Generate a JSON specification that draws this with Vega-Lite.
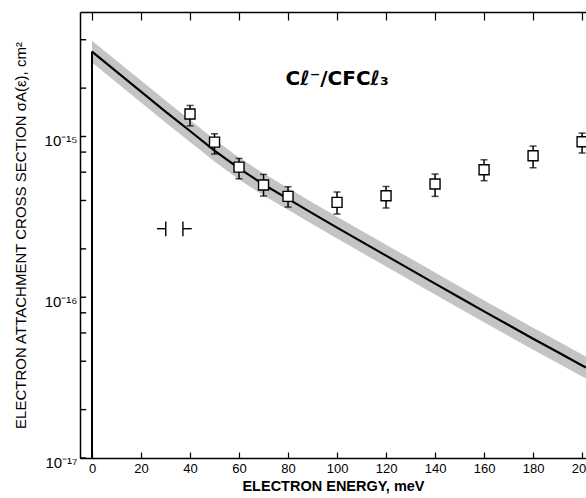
{
  "$schema": "https://vega.github.io/schema/vega-lite/v6.json",
  "width": 506,
  "height": 446,
  "autosize": {"type": "none"},
  "padding": {"left": 80, "top": 12, "right": 0, "bottom": 40},
  "background": "white",
  "config": {
    "view": {"stroke": null},
    "font": "Liberation Sans",
    "axis": {
      "domainColor": "black", "domainWidth": 1.5, "tickColor": "black", "tickWidth": 1.2,
      "labelColor": "black", "titleColor": "black", "grid": false,
      "labelFont": "Liberation Sans", "titleFont": "Liberation Sans"
    }
  },
  "datasets": {
    "curve": [
      {"e": 0, "s": 3.373e-15, "lo": 2.883e-15, "hi": 3.946e-15},
      {"e": 10, "s": 2.533e-15, "lo": 2.165e-15, "hi": 2.964e-15},
      {"e": 20, "s": 1.903e-15, "lo": 1.626e-15, "hi": 2.227e-15},
      {"e": 30, "s": 1.430e-15, "lo": 1.222e-15, "hi": 1.673e-15},
      {"e": 40, "s": 1.082e-15, "lo": 9.25e-16, "hi": 1.266e-15},
      {"e": 50, "s": 8.18e-16, "lo": 6.99e-16, "hi": 9.57e-16},
      {"e": 60, "s": 6.33e-16, "lo": 5.41e-16, "hi": 7.41e-16},
      {"e": 70, "s": 5.03e-16, "lo": 4.30e-16, "hi": 5.89e-16},
      {"e": 80, "s": 4.09e-16, "lo": 3.50e-16, "hi": 4.79e-16},
      {"e": 90, "s": 3.324e-16, "lo": 2.841e-16, "hi": 3.889e-16},
      {"e": 100, "s": 2.71e-16, "lo": 2.316e-16, "hi": 3.171e-16},
      {"e": 110, "s": 2.218e-16, "lo": 1.896e-16, "hi": 2.595e-16},
      {"e": 120, "s": 1.816e-16, "lo": 1.552e-16, "hi": 2.125e-16},
      {"e": 130, "s": 1.486e-16, "lo": 1.270e-16, "hi": 1.739e-16},
      {"e": 140, "s": 1.216e-16, "lo": 1.039e-16, "hi": 1.423e-16},
      {"e": 150, "s": 9.96e-17, "lo": 8.51e-17, "hi": 1.165e-16},
      {"e": 160, "s": 8.17e-17, "lo": 6.98e-17, "hi": 9.56e-17},
      {"e": 170, "s": 6.72e-17, "lo": 5.74e-17, "hi": 7.86e-17},
      {"e": 180, "s": 5.52e-17, "lo": 4.72e-17, "hi": 6.46e-17},
      {"e": 190, "s": 4.56e-17, "lo": 3.90e-17, "hi": 5.34e-17},
      {"e": 200, "s": 3.765e-17, "lo": 3.218e-17, "hi": 4.405e-17},
      {"e": 201.6, "s": 3.65e-17, "lo": 3.12e-17, "hi": 4.27e-17}
    ],
    "points": [
      {"e": 40, "s": 1.38e-15, "lo": 1.165e-15, "hi": 1.56e-15},
      {"e": 50, "s": 9.23e-16, "lo": 7.78e-16, "hi": 1.04e-15},
      {"e": 60, "s": 6.45e-16, "lo": 5.46e-16, "hi": 7.3e-16},
      {"e": 70, "s": 4.99e-16, "lo": 4.26e-16, "hi": 5.81e-16},
      {"e": 80, "s": 4.24e-16, "lo": 3.64e-16, "hi": 4.87e-16},
      {"e": 100, "s": 3.89e-16, "lo": 3.30e-16, "hi": 4.51e-16},
      {"e": 120, "s": 4.28e-16, "lo": 3.59e-16, "hi": 4.89e-16},
      {"e": 140, "s": 5.06e-16, "lo": 4.24e-16, "hi": 5.84e-16},
      {"e": 160, "s": 6.21e-16, "lo": 5.31e-16, "hi": 7.17e-16},
      {"e": 180, "s": 7.59e-16, "lo": 6.39e-16, "hi": 8.72e-16},
      {"e": 200, "s": 9.27e-16, "lo": 7.89e-16, "hi": 1.05e-15}
    ],
    "res": [
      {"x": 26.5, "x2": 30.1, "y": 2.67e-16, "y2": 2.67e-16},
      {"x": 30.1, "x2": 30.1, "y": 2.4e-16, "y2": 2.96e-16},
      {"x": 37.1, "x2": 37.1, "y": 2.4e-16, "y2": 2.96e-16},
      {"x": 37.1, "x2": 40.7, "y": 2.67e-16, "y2": 2.67e-16}
    ],
    "yticks": [{"v": 1e-17}, {"v": 2e-17}, {"v": 4e-17}, {"v": 6e-17}, {"v": 8e-17}, {"v": 1e-16}, {"v": 2e-16}, {"v": 4e-16}, {"v": 6e-16}, {"v": 8e-16}, {"v": 1e-15}, {"v": 2e-15}, {"v": 4e-15}],
    "drop": [{"e": 0, "top": 3.373e-15, "bottom": 1e-17}],
    "label": [{"e": 79, "s": 2.1e-15, "t": "Cℓ⁻/CFCℓ₃"}]
  },
  "layer": [
    {
      "data": {"name": "curve"},
      "mark": {"type": "area", "color": "#c4c4c4", "clip": true},
      "encoding": {
        "x": {"field": "e", "type": "quantitative", "scale": {"domain": [-4.9, 201.6], "nice": false, "zero": false},
          "axis": {"orient": "bottom", "values": [0,20,40,60,80,100,120,140,160,180,200], "tickSize": -6, "labelPadding": 10,
            "labelFontSize": 13, "labelFlush": false, "title": "ELECTRON ENERGY, meV", "titleFontSize": 14.5, "titleFontWeight": "bold", "titlePadding": 4}},
        "y": {"field": "lo", "type": "quantitative", "scale": {"type": "log", "domain": [1e-17, 5.95e-15], "nice": false},
          "axis": {
            "values": [1e-17, 1e-16, 1e-15],
            "labelExpr": "datum.value < 1.5e-17 ? '10⁻¹⁷' : (datum.value > 0.9e-16 && datum.value < 1.1e-16) ? '10⁻¹⁶' : '10⁻¹⁵'",
            "labelFlush": false, "labelOverlap": false,
            "ticks": false,
            "labelFontSize": 15, "labelPadding": 3, "labelOffset": 4,
            "title": "ELECTRON ATTACHMENT CROSS SECTION σA(ε), cm²",
            "titleFontSize": 15, "titleFontWeight": "normal", "titlePadding": 16
          }},
        "y2": {"field": "hi"}
      }
    },
    {
      "data": {"name": "curve"},
      "mark": {"type": "line", "color": "black", "strokeWidth": 2.2, "clip": true},
      "encoding": {
        "x": {"field": "e", "type": "quantitative", "scale": {"domain": [-4.9, 201.6], "nice": false, "zero": false},
          "axis": {"orient": "top", "values": [0,20,40,60,80,100,120,140,160,180,200], "tickSize": -8, "labels": false, "title": null}},
        "y": {"field": "s", "type": "quantitative", "scale": {"type": "log", "domain": [1e-17, 5.95e-15], "nice": false}, "axis": null}
      }
    },
    {
      "data": {"name": "yticks"},
      "mark": {"type": "rule", "color": "black", "strokeWidth": 1.4},
      "encoding": {
        "x": {"datum": -4.9, "type": "quantitative", "axis": null},
        "x2": {"datum": -2.4},
        "y": {"field": "v", "type": "quantitative", "axis": null}
      }
    },
    {
      "data": {"name": "drop"},
      "mark": {"type": "rule", "color": "black", "strokeWidth": 2},
      "encoding": {
        "x": {"field": "e", "type": "quantitative", "axis": null},
        "y": {"field": "top", "type": "quantitative", "axis": null},
        "y2": {"field": "bottom"}
      }
    },
    {
      "data": {"name": "points"},
      "mark": {"type": "rule", "color": "black", "strokeWidth": 1.5},
      "encoding": {
        "x": {"field": "e", "type": "quantitative", "axis": null},
        "y": {"field": "lo", "type": "quantitative", "axis": null},
        "y2": {"field": "hi"}
      }
    },
    {
      "data": {"name": "points"},
      "mark": {"type": "tick", "orient": "horizontal", "color": "black", "size": 7, "thickness": 1.5},
      "encoding": {
        "x": {"field": "e", "type": "quantitative", "axis": null},
        "y": {"field": "lo", "type": "quantitative", "axis": null}
      }
    },
    {
      "data": {"name": "points"},
      "mark": {"type": "tick", "orient": "horizontal", "color": "black", "size": 7, "thickness": 1.5},
      "encoding": {
        "x": {"field": "e", "type": "quantitative", "axis": null},
        "y": {"field": "hi", "type": "quantitative", "axis": null}
      }
    },
    {
      "data": {"name": "points"},
      "mark": {"type": "point", "shape": "square", "size": 100, "filled": false, "fill": "white", "fillOpacity": 1, "stroke": "black", "strokeWidth": 1.4, "opacity": 1},
      "encoding": {
        "x": {"field": "e", "type": "quantitative", "axis": null},
        "y": {"field": "s", "type": "quantitative", "axis": null}
      }
    },
    {
      "data": {"name": "res"},
      "mark": {"type": "rule", "color": "black", "strokeWidth": 1.4},
      "encoding": {
        "x": {"field": "x", "type": "quantitative", "axis": null},
        "x2": {"field": "x2"},
        "y": {"field": "y", "type": "quantitative", "axis": null},
        "y2": {"field": "y2"}
      }
    },
    {
      "data": {"name": "label"},
      "mark": {"type": "text", "align": "left", "baseline": "alphabetic", "font": "DejaVu Sans", "fontWeight": "bold", "fontSize": 20, "color": "black"},
      "encoding": {
        "x": {"field": "e", "type": "quantitative", "axis": null},
        "y": {"field": "s", "type": "quantitative", "axis": null},
        "text": {"field": "t"}
      }
    }
  ],
  "resolve": {"axis": {"x": "independent", "y": "independent"}}
}
